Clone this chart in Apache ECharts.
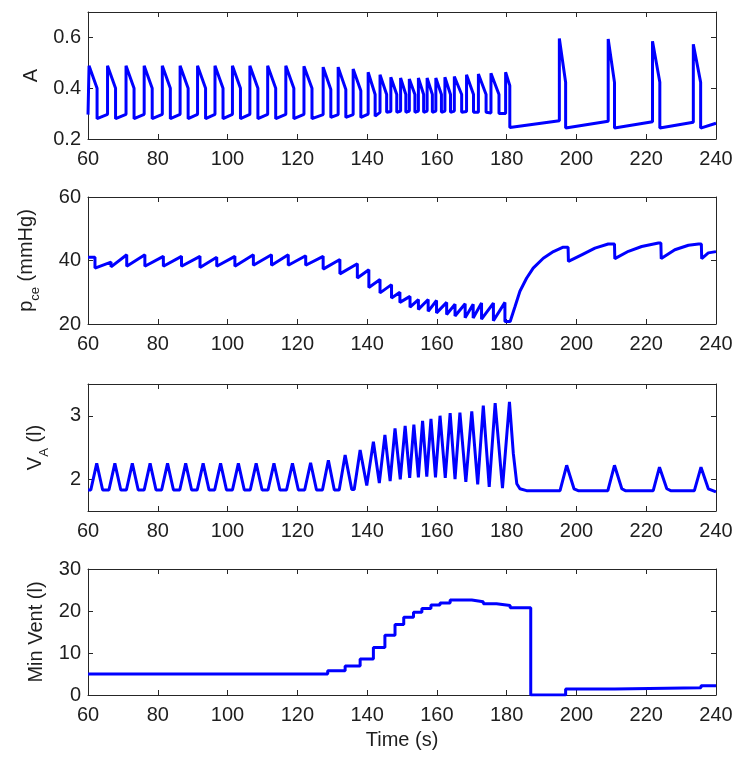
<!DOCTYPE html>
<html><head><meta charset="utf-8">
<script src="https://cdn.jsdelivr.net/npm/echarts@6/dist/echarts.min.js"></script>
<style>html,body{margin:0;padding:0;background:#fff}#c{width:750px;height:762px}</style>
</head><body><div id="c"></div>
<script>
// ---------- DATA ----------
// Time axis
const timeTicks = [60, 80, 100, 120, 140, 160, 180, 200, 220, 240];

// Panel 1: A — per-cycle values (onset time, value before rise, peak, drop time, value before drop, value after drop)
const aStart = [60.0, 0.296];
const aOnset = [60.3, 65.6, 70.9, 76.1, 81.3, 86.4, 91.4, 96.4, 101.4, 106.4, 111.5, 116.7, 121.9, 127.4, 131.7, 136.0, 140.3, 143.7, 146.8, 149.6, 152.1, 154.7, 157.2, 159.7, 162.3, 165.0, 168.5, 171.9, 175.5, 179.7, 195.1, 209.1, 221.8, 233.5];
const aPre   = [0.296, 0.297, 0.297, 0.297, 0.297, 0.297, 0.297, 0.297, 0.297, 0.297, 0.297, 0.297, 0.297, 0.296, 0.296, 0.296, 0.298, 0.305, 0.308, 0.31, 0.31, 0.31, 0.31, 0.31, 0.31, 0.31, 0.308, 0.305, 0.302, 0.30, 0.272, 0.270, 0.268, 0.266];
const aPeak  = [0.488, 0.488, 0.488, 0.488, 0.488, 0.488, 0.488, 0.488, 0.488, 0.488, 0.488, 0.488, 0.486, 0.483, 0.483, 0.476, 0.463, 0.453, 0.443, 0.44, 0.436, 0.44, 0.44, 0.44, 0.443, 0.446, 0.453, 0.456, 0.459, 0.463, 0.596, 0.594, 0.585, 0.573];
const aDrop  = [62.6, 67.9, 73.2, 78.4, 83.6, 88.7, 93.7, 98.7, 103.7, 108.7, 113.8, 119.0, 124.2, 129.6, 133.9, 138.2, 142.3, 145.6, 148.5, 151.1, 153.7, 156.2, 158.7, 161.3, 163.9, 167.1, 170.5, 174.1, 177.8, 180.9, 196.9, 210.9, 223.9, 235.6];
const aMid   = [0.40, 0.40, 0.40, 0.40, 0.40, 0.40, 0.40, 0.40, 0.40, 0.40, 0.40, 0.40, 0.40, 0.395, 0.395, 0.39, 0.375, 0.375, 0.375, 0.375, 0.375, 0.375, 0.375, 0.375, 0.375, 0.375, 0.375, 0.375, 0.375, 0.41, 0.423, 0.423, 0.423, 0.423];
const aLow   = [0.28, 0.28, 0.28, 0.28, 0.28, 0.28, 0.28, 0.28, 0.28, 0.28, 0.28, 0.28, 0.28, 0.285, 0.285, 0.285, 0.29, 0.305, 0.305, 0.305, 0.305, 0.305, 0.305, 0.305, 0.305, 0.305, 0.305, 0.305, 0.30, 0.245, 0.243, 0.243, 0.243, 0.243];
const aEnd = [240.0, 0.262];
const aTicks = [0.2, 0.4, 0.6];

// Panel 2: p_ce (mmHg) — [time, value]
const pceData = [[60.0,41.0],[62.0,41.0],[62.0,37.6],[66.6,39.5],[66.6,38.0],[71.1,41.8],[71.1,38.2],[76.3,41.8],[76.3,38.2],[81.6,41.3],[81.6,38.2],[86.8,41.3],[86.8,38.2],[92.1,41.3],[92.1,37.8],[96.9,41.0],[96.9,38.2],[102.1,41.3],[102.1,38.2],[107.4,41.8],[107.4,38.5],[112.6,41.8],[112.6,38.5],[117.4,41.8],[117.4,38.5],[122.4,41.5],[122.4,38.5],[127.4,41.3],[127.4,37.3],[132.2,40.3],[132.2,35.8],[137.2,39.0],[137.2,34.5],[140.5,37.1],[140.5,31.5],[143.7,34.0],[143.7,29.8],[147.0,32.4],[147.0,28.2],[149.4,30.0],[149.4,26.8],[152.3,28.7],[152.3,25.3],[154.7,27.7],[154.7,24.6],[157.5,27.7],[157.5,24.0],[159.9,27.4],[159.9,23.5],[162.8,26.8],[162.8,23.0],[165.2,26.2],[165.2,22.5],[168.1,26.4],[168.1,22.0],[170.4,26.2],[170.4,21.9],[172.8,26.6],[172.8,21.5],[176.2,26.6],[176.2,21.0],[179.5,26.8],[179.5,20.8],[181.0,20.8],[182.4,25.5],[183.8,30.3],[185.7,34.4],[187.6,37.6],[190.5,40.7],[193.4,42.8],[196.2,44.2],[197.6,44.2],[197.7,39.7],[201.5,41.8],[205.3,43.9],[209.1,45.2],[210.9,45.2],[211.0,40.6],[214.9,42.9],[218.7,44.4],[223.5,45.5],[224.2,45.5],[224.3,40.6],[228.2,43.4],[232.1,44.8],[235.0,45.2],[235.8,45.2],[235.9,40.6],[237.8,42.4],[240.0,42.8]];
const pceTicks = [20, 40, 60];

// Panel 3: V_A (l) — [time, value]
const vaData = [[60.0,1.83],[60.8,1.83],[62.5,2.25],[64.2,1.83],[66.0,1.83],[67.7,2.25],[69.4,1.83],[71.0,1.83],[72.7,2.25],[74.4,1.83],[76.1,1.83],[77.8,2.25],[79.5,1.83],[81.1,1.83],[82.8,2.25],[84.5,1.83],[86.3,1.83],[88.0,2.25],[89.7,1.83],[91.3,1.83],[93.0,2.25],[94.7,1.83],[96.3,1.83],[98.0,2.25],[99.7,1.83],[101.4,1.83],[103.1,2.25],[104.8,1.83],[106.5,1.83],[108.2,2.25],[109.9,1.83],[111.6,1.83],[113.3,2.25],[115.0,1.83],[116.9,1.83],[118.6,2.25],[120.3,1.83],[122.1,1.83],[123.8,2.26],[125.5,1.83],[127.2,1.83],[128.9,2.30],[130.6,1.83],[132.0,1.83],[133.7,2.38],[135.6,1.84],[136.3,1.84],[138.0,2.46],[139.9,1.90],[141.8,2.59],[143.5,1.94],[145.1,2.70],[146.6,1.97],[148.0,2.80],[149.5,2.00],[150.9,2.84],[152.2,2.02],[153.4,2.86],[154.7,2.03],[155.9,2.92],[157.1,2.04],[158.3,2.95],[159.6,2.03],[160.9,3.00],[162.4,2.02],[163.8,3.04],[165.2,2.00],[166.6,3.05],[168.3,1.96],[170.0,3.07],[171.7,1.92],[173.3,3.16],[175.0,1.88],[176.7,3.20],[178.8,1.86],[180.8,3.22],[181.9,2.41],[182.9,1.93],[183.8,1.85],[185.7,1.82],[195.3,1.82],[197.2,2.22],[199.3,1.85],[200.5,1.82],[209.0,1.82],[210.9,2.22],[213.0,1.85],[214.0,1.82],[222.0,1.82],[223.8,2.19],[225.9,1.85],[227.0,1.82],[233.8,1.82],[235.7,2.19],[237.8,1.85],[240.0,1.80]];
const vaTicks = [2, 3];

// Panel 4: Min Vent (l) — [time the level starts, level]
const mvData = [[60,5.0],[128.7,5.8],[133.7,6.9],[138.0,8.6],[141.8,11.3],[145.1,14.2],[148.0,16.8],[150.5,18.5],[153.3,19.7],[155.7,20.6],[158.3,21.4],[160.9,21.9],[163.8,22.6],[170.0,22.2],[173.3,21.7],[177.1,21.3],[181.0,20.8],[186.9,0],[196.9,1.4],[211.0,1.7],[235.7,2.2],[240,2.2]];
const mvTicks = [0, 10, 20, 30];

// ---------- BUILD ----------
const aData = [aStart];
for (let i = 0; i < aOnset.length; i++) {
  aData.push([aOnset[i], aPre[i]], [aOnset[i], aPeak[i]], [aDrop[i], aMid[i]], [aDrop[i], aLow[i]]);
}
aData.push(aEnd);

const FONT = '"Liberation Sans", Arial, sans-serif';
const AX = '#262626';
const TXT = '#1e1e1e';
const BLUE = '#0000ff';
const FS = 20;

const grids = [
  {left: 88, top: 12, width: 628, height: 127},
  {left: 88, top: 197, width: 628, height: 127},
  {left: 88, top: 384, width: 628, height: 127},
  {left: 88, top: 569, width: 628, height: 126}
];

const yCfg = [
  {min: 0.2, max: 0.7, ticks: aTicks, name: 'A', gap: 47},
  {min: 20, max: 60, ticks: pceTicks, name: '{m|p}{s|ce}{m| (mmHg)}', gap: 46},
  {min: 1.5, max: 3.5, ticks: vaTicks, name: '{m|V}{s|A}{m| (l)}', gap: 37},
  {min: 0, max: 30, ticks: mvTicks, name: 'Min Vent (l)', gap: 42}
];

const xAxes = [], yAxes = [];
grids.forEach((g, gi) => {
  [false, true].forEach(top => {
    const ax = {
      type: 'value', gridIndex: gi, position: top ? 'top' : 'bottom',
      min: timeTicks[0], max: timeTicks[timeTicks.length - 1],
      axisLine: {show: true, onZero: false, lineStyle: {color: AX, width: 1}},
      axisTick: {show: true, inside: true, length: 5, customValues: timeTicks, lineStyle: {color: AX, width: 1}},
      axisLabel: {show: !top, customValues: timeTicks, fontSize: FS, color: TXT, fontFamily: FONT, margin: 10},
      splitLine: {show: false}
    };
    if (gi === 3 && !top) {
      ax.name = 'Time (s)';
      ax.nameLocation = 'middle';
      ax.nameGap = 35;
      ax.nameTextStyle = {fontSize: FS, color: TXT, fontFamily: FONT};
    }
    xAxes.push(ax);
  });
  const c = yCfg[gi];
  [false, true].forEach(right => {
    const ay = {
      type: 'value', gridIndex: gi, position: right ? 'right' : 'left',
      min: c.min, max: c.max,
      axisLine: {show: true, onZero: false, lineStyle: {color: AX, width: 1}},
      axisTick: {show: true, inside: true, length: 5, customValues: c.ticks, lineStyle: {color: AX, width: 1}},
      axisLabel: {show: !right, customValues: c.ticks, fontSize: FS, color: TXT, fontFamily: FONT, margin: 7},
      splitLine: {show: false}
    };
    if (!right) {
      ay.name = c.name;
      ay.nameLocation = 'middle';
      ay.nameRotate = 90;
      ay.nameGap = c.gap;
      ay.nameTextStyle = {
        fontSize: FS, color: TXT, fontFamily: FONT,
        rich: {
          m: {fontSize: FS, color: TXT, fontFamily: FONT, lineHeight: 26, verticalAlign: 'top'},
          s: {fontSize: 13, color: TXT, fontFamily: FONT, lineHeight: 13, verticalAlign: 'bottom'}
        }
      };
    }
    yAxes.push(ay);
  });
});

function lineSeries(gi, data, step) {
  return {
    type: 'line', xAxisIndex: gi * 2, yAxisIndex: gi * 2, data: data,
    showSymbol: false, symbol: 'none', step: step || false,
    lineStyle: {color: BLUE, width: 3}, itemStyle: {color: BLUE},
    clip: true, animation: false
  };
}

const chart = echarts.init(document.getElementById('c'), null, {renderer: 'canvas'});
chart.setOption({
  backgroundColor: '#ffffff',
  animation: false,
  grid: grids,
  xAxis: xAxes,
  yAxis: yAxes,
  series: [
    lineSeries(0, aData),
    lineSeries(1, pceData),
    lineSeries(2, vaData),
    lineSeries(3, mvData, 'end')
  ]
});
</script>
</body></html>
